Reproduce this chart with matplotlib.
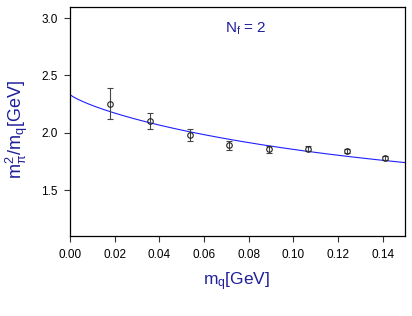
import numpy as np
import matplotlib
matplotlib.use("Agg")
import matplotlib.pyplot as plt

plt.rcParams['font.family'] = ['Liberation Sans', 'DejaVu Sans']
plt.rcParams['mathtext.fontset'] = 'custom'
plt.rcParams['mathtext.rm'] = 'Liberation Sans'
plt.rcParams['mathtext.it'] = 'Liberation Sans'

# data
mq = [0.0179, 0.0358, 0.0537, 0.0711, 0.0890, 0.1064, 0.1239, 0.1409]
ratio = [2.255, 2.105, 1.980, 1.892, 1.857, 1.862, 1.842, 1.780]
err = [0.135, 0.070, 0.050, 0.040, 0.030, 0.020, 0.020, 0.020]
# fit curve parameters: y = a + b*x + c*x*ln(x)
fit_a, fit_b, fit_c = 2.333, -0.083, 2.04

navy = '#1f1f99'

fig = plt.figure(figsize=(4.12, 3.16), dpi=100)
ax = fig.add_axes([70/412, 1-236/316, 335/412, (236-6.6)/316])

xs = np.linspace(0.0, 0.15, 400)
xs_safe = np.where(xs > 0, xs, 1e-12)
ys = fit_a + fit_b*xs + fit_c*xs_safe*np.log(xs_safe)
ax.plot(xs, ys, color='#2020ff', lw=0.8, zorder=2)

ax.errorbar(mq, ratio, yerr=err, fmt='o', mfc='none', mec='#222222', ms=4,
            mew=0.8, ecolor='#444444', elinewidth=0.8, capsize=2.5, capthick=0.8, zorder=3)

ax.set_xlim(0.0, 0.15)
ax.set_ylim(1.1, 3.1)
ax.set_xticks([0.00, 0.02, 0.04, 0.06, 0.08, 0.10, 0.12, 0.14])
ax.set_xticklabels(['0.00', '0.02', '0.04', '0.06', '0.08', '0.10', '0.12', '0.14'])
ax.set_yticks([1.5, 2.0, 2.5, 3.0])
ax.set_yticklabels(['1.5', '2.0', '2.5', '3.0'])
ax.tick_params(direction='out', length=4, width=0.8, labelsize=8.5, color='#333333', pad=5)
for s in ax.spines.values():
    s.set_linewidth(0.9)
    s.set_color('black')

fig.text(17/412, 1-130/316, r'm$_\pi^{2}$/m$_\mathrm{q}$[GeV]', rotation=90,
         ha='center', va='center', fontsize=13, color=navy)
fig.text(237/412, 1-282/316, r'm$_\mathrm{q}$[GeV]', ha='center', va='center',
         fontsize=12.5, color=navy)
fig.text(246/412, 1-29/316, r'N$_\mathrm{f}$ = 2', ha='center', va='center',
         fontsize=11, color=navy)

fig.savefig('out.png', dpi=100)
